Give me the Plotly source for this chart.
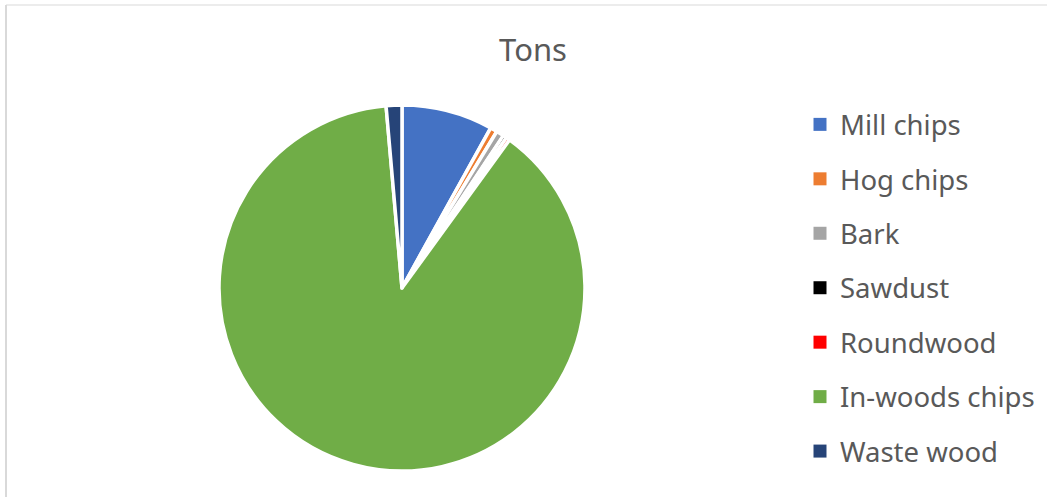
import plotly.graph_objects as go

# Data
categories = ["Mill chips", "Hog chips", "Bark", "Sawdust", "Roundwood", "In-woods chips", "Waste wood"]
tons = [8.06, 0.61, 0.67, 0.33, 0.33, 88.61, 1.39]
colors = ["#4472C4", "#ED7D31", "#A5A5A5", "#000000", "#FF0000", "#70AD47", "#264478"]
title_text = "Tons"

W, H = 1047, 497
cx, cy, r = 402, 288, 183

fig = go.Figure()
fig.add_trace(go.Pie(
    labels=categories,
    values=tons,
    sort=False,
    direction="clockwise",
    rotation=0,
    marker=dict(colors=colors, line=dict(color="white", width=3.5)),
    textinfo="none",
    hoverinfo="label+value+percent",
    showlegend=False,
    domain=dict(x=[(cx - r) / W, (cx + r) / W], y=[(H - cy - r) / H, (H - cy + r) / H]),
))

# Legend entries (one per category, same colours)
for i, (name, col) in enumerate(zip(categories, colors)):
    fig.add_trace(go.Scatter(
        x=[None], y=[None], mode="markers", name=name,
        marker=dict(symbol="square", size=13, color=col),
        legendgroup=f"g{i}", showlegend=True, hoverinfo="skip",
    ))

fig.update_layout(
    width=W, height=H,
    margin=dict(l=0, r=0, t=0, b=0),
    paper_bgcolor="white", plot_bgcolor="white",
    font=dict(family="Noto Sans, Open Sans, sans-serif", color="#595959"),
    title=dict(text=title_text, x=533 / W, xanchor="center", y=1 - 50 / H, yanchor="middle",
               font=dict(size=31, color="#595959")),
    xaxis=dict(visible=False), yaxis=dict(visible=False),
    legend=dict(
        x=800 / W, xanchor="left", y=1 - 100.0 / H, yanchor="top",
        traceorder="grouped", tracegroupgap=15.7,
        font=dict(size=27.5, color="#595959"),
        bgcolor="rgba(0,0,0,0)", borderwidth=0,
    ),
    shapes=[
        dict(type="line", xref="paper", yref="paper", x0=6 / W, y0=1 - 5 / H, x1=1, y1=1 - 5 / H,
             line=dict(color="#D9D9D9", width=1)),
        dict(type="line", xref="paper", yref="paper", x0=6 / W, y0=1 - 5 / H, x1=6 / W, y1=0,
             line=dict(color="#D9D9D9", width=2)),
    ],
)

fig.write_html("out.html", config={"displayModeBar": False},
               post_script="document.body.style.margin='0';")
